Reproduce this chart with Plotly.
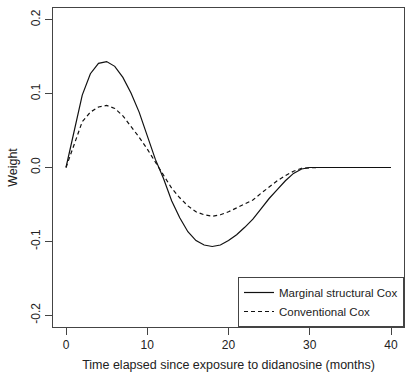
import plotly.graph_objects as go

months = list(range(0, 41))
msm_cox = [0.000, 0.048, 0.098, 0.127, 0.141, 0.1435, 0.137, 0.122, 0.101, 0.075,
           0.044, 0.011, -0.015, -0.045, -0.068, -0.087, -0.099, -0.105, -0.107, -0.105,
           -0.099, -0.091, -0.081, -0.070, -0.056, -0.042, -0.030, -0.018, -0.008, -0.002,
           0.000] + [0.0] * 10
conv_cox = [0.000, 0.032, 0.062, 0.075, 0.082, 0.084, 0.080, 0.070, 0.056, 0.041,
            0.025, 0.007, -0.011, -0.028, -0.041, -0.052, -0.060, -0.064, -0.066, -0.064,
            -0.060, -0.055, -0.050, -0.044, -0.035, -0.026, -0.018, -0.011, -0.005, -0.001,
            0.000] + [0.0] * 10

x_ticks = [0, 10, 20, 30, 40]
y_ticks = [-0.2, -0.1, 0.0, 0.1, 0.2]
y_tick_labels = ["-0.2", "-0.1", "0.0", "0.1", "0.2"]

FONT = "Liberation Sans, Arial, Helvetica, sans-serif"
AX = "#444444"

fig = go.Figure()
fig.add_trace(go.Scatter(x=months, y=msm_cox, mode="lines", name="Marginal structural Cox",
                         line=dict(color="#111111", width=1.2)))
fig.add_trace(go.Scatter(x=months, y=conv_cox, mode="lines", name="Conventional Cox",
                         line=dict(color="#111111", width=1.2, dash="4px,3px")))

fig.update_layout(
    width=406, height=372,
    margin=dict(l=53, r=2, t=8, b=45),
    paper_bgcolor="white", plot_bgcolor="white",
    font=dict(family=FONT, size=12, color="#222222"),
    showlegend=True,
    legend=dict(x=1, y=0, xanchor="right", yanchor="bottom",
                bordercolor=AX, borderwidth=1, bgcolor="white",
                font=dict(size=11.5), itemwidth=30),
)
fig.update_xaxes(range=[-1.6, 41.6], tickvals=x_ticks, ticks="outside", ticklen=7,
                 tickcolor=AX, showline=True, linecolor=AX, linewidth=1, mirror=True,
                 showgrid=False, zeroline=False,
                 title=dict(text="Time elapsed since exposure to didanosine (months)",
                            font=dict(size=12.5), standoff=8))
fig.update_yaxes(range=[-0.216, 0.216], tickvals=y_ticks, ticktext=y_tick_labels,
                 tickangle=-90, ticks="outside", ticklen=7,
                 tickcolor=AX, showline=True, linecolor=AX, linewidth=1, mirror=True,
                 showgrid=False, zeroline=False,
                 title=dict(text="Weight", font=dict(size=12.5), standoff=8))

fig.write_html("out.html", config={"displayModeBar": False},
               post_script="document.body.style.margin='0px';")
